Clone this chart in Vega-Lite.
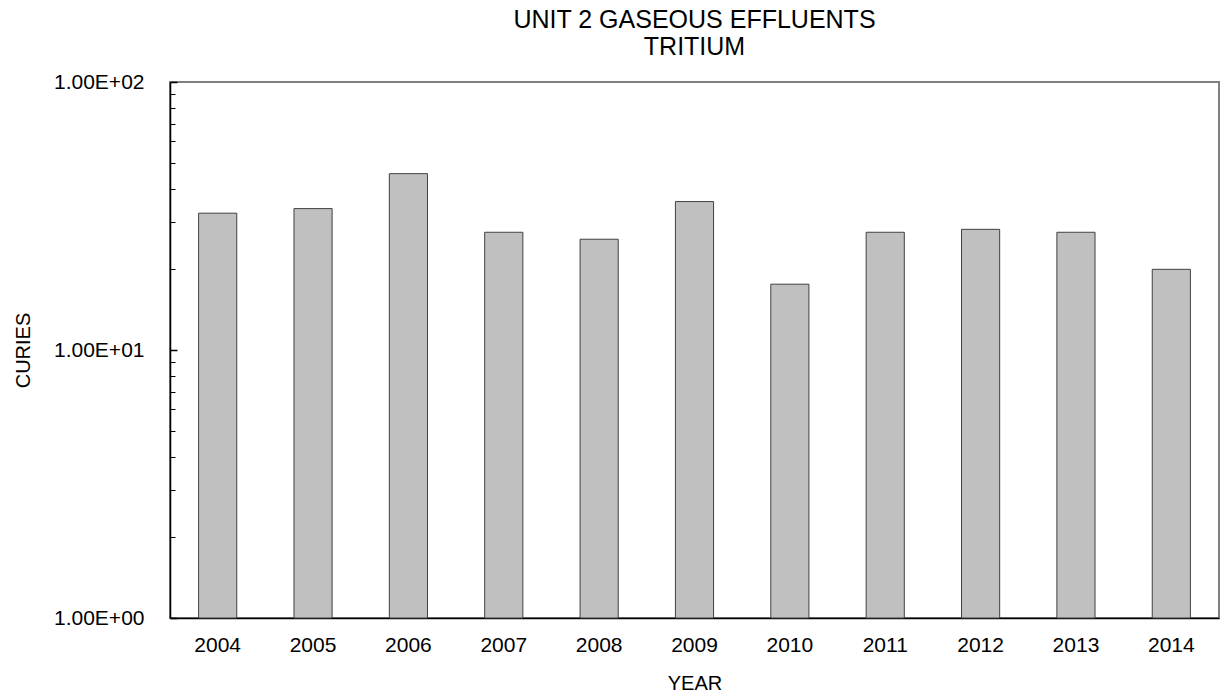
{
  "$schema": "https://vega.github.io/schema/vega-lite/v6.json",
  "width": 1049,
  "height": 536,
  "autosize": "none",
  "padding": {"left": 170, "top": 82, "right": 3, "bottom": 82},
  "background": "white",
  "title": {
    "text": ["UNIT 2 GASEOUS EFFLUENTS", "TRITIUM"],
    "font": "Liberation Sans",
    "fontSize": 25,
    "fontWeight": "normal",
    "color": "#000000",
    "anchor": "middle",
    "lineHeight": 27,
    "offset": 11
  },
  "config": {
    "view": {"stroke": "#808080", "strokeWidth": 2},
    "font": "Liberation Sans"
  },
  "data": {
    "values": [
      {"year": "2004", "curies": 32.4, "base": 1},
      {"year": "2005", "curies": 33.7, "base": 1},
      {"year": "2006", "curies": 45.5, "base": 1},
      {"year": "2007", "curies": 27.5, "base": 1},
      {"year": "2008", "curies": 25.9, "base": 1},
      {"year": "2009", "curies": 35.8, "base": 1},
      {"year": "2010", "curies": 17.6, "base": 1},
      {"year": "2011", "curies": 27.5, "base": 1},
      {"year": "2012", "curies": 28.2, "base": 1},
      {"year": "2013", "curies": 27.5, "base": 1},
      {"year": "2014", "curies": 20.0, "base": 1}
    ]
  },
  "layer": [
    {
      "mark": {"type": "bar", "fill": "#c0c0c0", "stroke": "#404040", "strokeWidth": 1},
      "encoding": {
        "x": {
          "field": "year",
          "type": "ordinal",
          "scale": {"paddingInner": 0.6, "paddingOuter": 0.3},
          "axis": {
            "title": "YEAR",
            "titleFont": "Liberation Sans",
            "titleFontSize": 20,
            "titleFontWeight": "normal",
            "titleColor": "#000000",
            "titlePadding": 18,
            "labelAngle": 0,
            "labelFont": "Liberation Sans",
            "labelFontSize": 21,
            "labelColor": "#000000",
            "labelPadding": 16,
            "ticks": false,
            "domainColor": "#000000",
            "domainWidth": 1.5
          }
        },
        "y": {
          "field": "curies",
          "type": "quantitative",
          "stack": null,
          "scale": {"type": "log", "domain": [1, 100], "nice": false},
          "axis": {
            "orient": "left",
            "values": [1, 10, 100],
            "labelExpr": "datum.value >= 100 ? '1.00E+02' : datum.value >= 10 ? '1.00E+01' : '1.00E+00'",
            "title": "CURIES",
            "titleFont": "Liberation Sans",
            "titleFontSize": 20,
            "titleFontWeight": "normal",
            "titleColor": "#000000",
            "titlePadding": 20,
            "labelFont": "Liberation Sans",
            "labelFontSize": 21,
            "labelColor": "#000000",
            "labelPadding": 33,
            "tickSize": -7,
            "tickColor": "#000000",
            "tickWidth": 1.5,
            "domainColor": "#000000",
            "domainWidth": 1.5,
            "grid": false
          }
        },
        "y2": {"field": "base"}
      }
    },
    {
      "mark": {"type": "bar", "opacity": 0},
      "encoding": {
        "x": {"field": "year", "type": "ordinal"},
        "y": {
          "field": "curies",
          "type": "quantitative",
          "stack": null,
          "axis": {
            "orient": "left",
            "values": [2, 3, 4, 5, 6, 7, 8, 9, 20, 30, 40, 50, 60, 70, 80, 90],
            "labels": false,
            "title": null,
            "tickSize": -5,
            "tickColor": "#000000",
            "tickWidth": 1,
            "domain": false,
            "grid": false
          }
        },
        "y2": {"field": "base"}
      }
    }
  ],
  "resolve": {"axis": {"y": "independent"}}
}
